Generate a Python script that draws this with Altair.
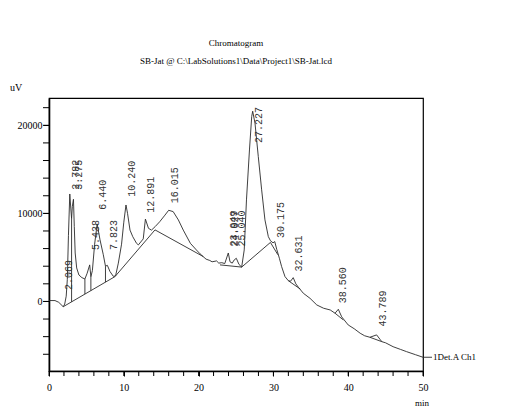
import altair as alt
import pandas as pd
import numpy as np

# ---- signal trace (time in min, signal in uV) ----
trace_t = [0.0, 0.8, 1.3, 1.9, 2.1, 2.3, 2.45, 2.6, 2.78, 2.92, 3.02, 3.12, 3.27, 3.38, 3.5, 3.7,
           4.0, 4.4, 4.8, 5.1, 5.44, 5.6, 5.8, 6.1, 6.44, 6.82, 7.26, 7.55, 7.8, 8.15, 8.6, 8.9,
           9.27, 9.7, 10.0, 10.29, 10.5, 10.83, 11.2, 11.7, 11.95, 12.6, 12.89, 13.3, 13.7, 14.2,
           14.8, 15.5, 16.0, 16.6, 17.3, 17.95, 18.9, 19.7, 20.2, 20.6, 21.0, 21.5, 21.8, 22.4,
           22.7, 23.1, 23.5, 23.97, 24.2, 24.5, 24.75, 25.04, 25.4, 25.76, 26.1, 26.4, 26.8, 27.1,
           27.23, 27.54, 27.98, 28.43, 28.87, 29.32, 29.6, 29.95, 30.18, 30.45, 30.8, 31.1, 31.55,
           32.0, 32.3, 32.65, 33.0, 33.35, 34.0, 34.9, 35.8, 36.7, 37.6, 38.24, 38.68, 39.13, 40.0,
           40.8, 41.6, 42.2, 42.9, 43.8, 44.25, 44.5, 45.0, 46.0, 47.0, 47.8, 49.0, 50.0]
trace_v = [100, 100, -100, -600, -300, 600, 2500, 7500, 12200, 10500, 9400, 10800, 11600, 8500, 5500, 3800,
           3000, 2700, 2550, 3200, 4150, 2800, 3500, 6500, 8800, 7000, 5300, 4000, 4100, 3400, 2850, 2900,
           4350, 6500, 9000, 10950, 10000, 8100, 7350, 6600, 6420, 7100, 9350, 8300, 8100, 8500,
           9050, 9800, 10350, 10200, 9250, 8100, 6600, 5850, 5400, 5100, 4800, 4650, 4500, 4600,
           4350, 4400, 4300, 5500, 4500, 4350, 4700, 4900, 4200, 3900, 5850, 11530, 17200, 21000,
           21600, 20250, 16450, 12670, 9260, 7360, 6900, 6650, 6800, 5900, 4900, 3950, 2820,
           2350, 2300, 2700, 2000, 1600, 930, 350, -400, -770, -970, -1340, -890, -1750, -2670,
           -3100, -3610, -3900, -4070, -3800, -4300, -4570, -4700, -5140, -5450, -5700, -6050, -6340]

# ---- integration baselines (segment id, time, uV) ----
base_seg = ["A", "A", "B", "B", "B", "C", "C", "D", "D", "E", "E", "F", "F", "G", "G", "H", "H"]
base_t = [1.9, 8.82, 8.82, 14.17, 20.63, 22.86, 25.76, 25.76, 29.6, 29.6, 30.6, 32.0, 33.6, 38.24, 39.35, 42.9, 44.5]
base_v = [-600, 2820, 2820, 8125, 5090, 4150, 3900, 3900, 6700, 6700, 5300, 2350, 1400, -1340, -2100, -4070, -4570]

# ---- drop lines (valley times) ----
drop_t = [3.02, 4.8, 5.6, 7.55]

# ---- peak labels: text, retention time, label start height (uV) ----
peak_text = ["2.069", "2.782", "3.275", "5.438", "6.440", "7.823", "10.240", "12.891", "16.015",
             "23.949", "24.027", "25.040", "27.227", "30.175", "32.631", "38.560", "43.789"]
peak_t = [1.85, 2.782, 3.275, 5.438, 6.440, 7.823, 10.240, 12.891, 16.015,
          23.97, 24.0, 25.040, 27.227, 30.175, 32.631, 38.560, 43.789]
peak_lv = [1300, 12670, 12670, 5850, 10400, 5850, 11900, 10060, 11160,
           6230, 6230, 6230, 18000, 7200, 3390, -200, -2860]

x_major = [0, 10, 20, 30, 40, 50]
y_major = [0, 10000, 20000]
x_ticks = list(range(0, 51, 2))
y_ticks = list(range(-6000, 22001, 2000))

W, H = 374, 273
INK = "#2a2a2a"

trace = pd.DataFrame({"t": trace_t, "v": trace_v})
base = pd.DataFrame({"seg": base_seg, "t": base_t, "v": base_v})
drops = pd.DataFrame({"t": drop_t,
                      "top": [float(np.interp(d, trace_t, trace_v)) for d in drop_t],
                      "bot": [float(np.interp(d, base_t[0:2], base_v[0:2])) for d in drop_t]})
peaks = pd.DataFrame({"label": peak_text, "t": peak_t, "lv": peak_lv})
xt = pd.DataFrame({"t": x_ticks})
yt = pd.DataFrame({"v": y_ticks})

xsc = alt.Scale(domain=[0, 50], nice=False, zero=False)
ysc = alt.Scale(domain=[-7900, 23100], nice=False, zero=False)

common_axis = dict(title=None, grid=False, format="d", labelOverlap=False,
                   labelFont="Liberation Serif", labelFontSize=10, labelColor="black",
                   domainColor="black", tickColor="black", domainWidth=1.6)
xaxis = alt.Axis(values=x_major, tickSize=5, labelFlush=False, labelPadding=6, **common_axis)
yaxis = alt.Axis(values=y_major, tickSize=6, labelPadding=1, **common_axis)

line = alt.Chart(trace).mark_line(color=INK, strokeWidth=0.9).encode(
    x=alt.X("t:Q", scale=xsc, axis=xaxis),
    y=alt.Y("v:Q", scale=ysc, axis=yaxis),
    order="t:Q")

bl = alt.Chart(base).mark_line(color=INK, strokeWidth=0.9).encode(
    x=alt.X("t:Q", scale=xsc), y=alt.Y("v:Q", scale=ysc), detail="seg:N")

dr = alt.Chart(drops).mark_rule(color=INK, strokeWidth=0.9).encode(
    x=alt.X("t:Q", scale=xsc), y=alt.Y("top:Q", scale=ysc), y2="bot:Q")

labels = alt.Chart(peaks).mark_text(angle=270, align="left", baseline="top", dy=1,
                                    font="Liberation Mono", fontSize=10, color="#333333").encode(
    x=alt.X("t:Q", scale=xsc), y=alt.Y("lv:Q", scale=ysc), text="label:N")

# minor ticks
xmin = alt.Chart(xt).mark_rule(color="black", strokeWidth=1).encode(
    x=alt.X("t:Q", scale=xsc), y=alt.value(H), y2=alt.value(H + 5))
ymin = alt.Chart(yt).mark_rule(color="black", strokeWidth=1).encode(
    y=alt.Y("v:Q", scale=ysc), x=alt.value(0), x2=alt.value(-6))

one = pd.DataFrame({"t": [50.0], "v": [trace_v[-1]]})
endlab = alt.Chart(one).mark_text(align="left", baseline="middle", dx=10, font="Liberation Serif",
                                  fontSize=9, color="black").encode(
    x=alt.X("t:Q", scale=xsc), y=alt.Y("v:Q", scale=ysc), text=alt.value("1Det.A Ch1"))
conn = alt.Chart(one).mark_rule(color=INK, strokeWidth=0.9).encode(
    x=alt.X("t:Q", scale=xsc), x2=alt.value(W + 9), y=alt.Y("v:Q", scale=ysc))

dummy = pd.DataFrame({"a": [0]})
uv = alt.Chart(dummy).mark_text(align="left", baseline="middle", font="Liberation Serif",
                                fontSize=10, color="black").encode(
    x=alt.value(-39), y=alt.value(-10), text=alt.value("uV"))
mn = alt.Chart(dummy).mark_text(align="center", baseline="middle", font="Liberation Serif",
                                fontSize=9, color="black").encode(
    x=alt.value(W - 1), y=alt.value(H + 32), text=alt.value("min"))

chart = alt.layer(line, bl, dr, labels, xmin, ymin, conn, endlab, uv, mn).properties(
    width=W, height=H,
    autosize=alt.AutoSizeParams(type="none"),
    padding={"left": 41, "top": 90, "right": 60, "bottom": 40},
    title=alt.TitleParams(text="Chromatogram",
                          subtitle="SB-Jat @ C:\\LabSolutions1\\Data\\Project1\\SB-Jat.lcd",
                          font="Liberation Serif", fontSize=9, fontWeight="normal", color="black",
                          subtitleFont="Liberation Serif", subtitleFontSize=9, subtitleColor="black",
                          subtitlePadding=9, anchor="middle", offset=17)
).configure_view(stroke="black", strokeWidth=1.2)

chart.save("out.html", embed_options={"renderer": "svg", "actions": False})
